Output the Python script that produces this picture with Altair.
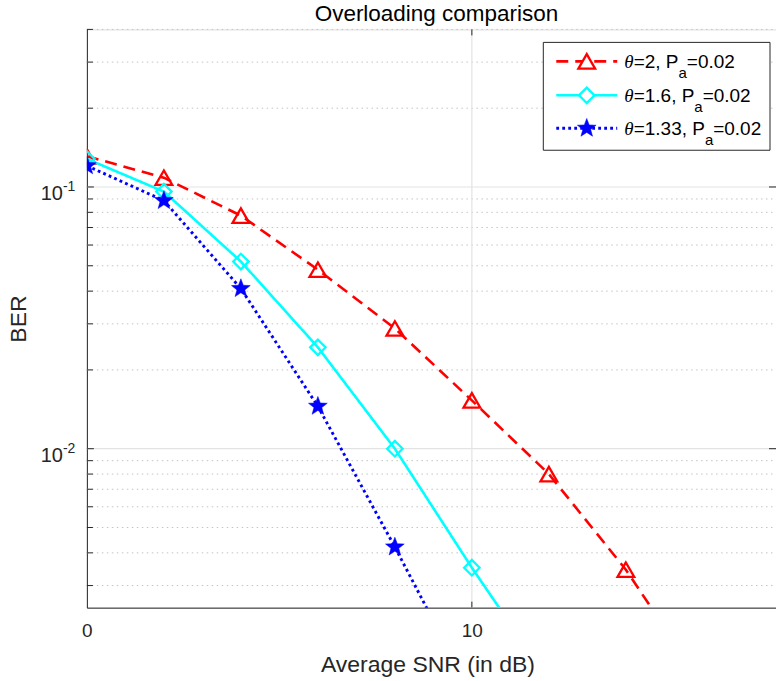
import math
import altair as alt
import pandas as pd

# ---- data -------------------------------------------------------------
snr_db = [0, 2, 4, 6, 8, 10, 12, 14, 16]
ber_theta_2 = [0.131, 0.1085, 0.0777, 0.0483, 0.0288, 0.0153, 0.0080, 0.00345, 0.00125]
ber_theta_1_6 = [0.128, 0.096, 0.0519, 0.0244, 0.0100, 0.00351, 0.0013]
ber_theta_1_33 = [0.1205, 0.0887, 0.0409, 0.01452, 0.00421, 0.00115]

theta_labels = ["2", "1.6", "1.33"]
pa_label = "0.02"
chart_title = "Overloading comparison"

x_tick_values = [0, 10]
y_major_values = [0.01, 0.1]
y_major_exponents = ["-2", "-1"]
y_minor_values = [0.003, 0.004, 0.005, 0.006, 0.007, 0.008, 0.009,
                  0.02, 0.03, 0.04, 0.05, 0.06, 0.07, 0.08, 0.09,
                  0.2, 0.3, 0.4]

# ---- layout -----------------------------------------------------------
LEFT, TOP = 87, 29
W, H = 690, 579
FONT = "Liberation Sans"
AXIS_COLOR = "#262626"

x_scale = alt.Scale(domain=[0, 17.9], nice=False, zero=False)
y_scale = alt.Scale(type="log", domain=[0.00247, 0.4], nice=False)


def star_path():
    pts = []
    for k in range(10):
        r = 1.0 if k % 2 == 0 else 0.42
        a = math.radians(-90 + 36 * k)
        pts.append(f"{r * math.cos(a):.3f},{r * math.sin(a):.3f}")
    return "M" + "L".join(pts) + "Z"


STAR = star_path()

series = [
    dict(theta=theta_labels[0], ber=ber_theta_2, color="#ff0000", width=2.6,
         dash=[12, 7], shape="triangle-up", filled=False, size=280),
    dict(theta=theta_labels[1], ber=ber_theta_1_6, color="#00ffff", width=2.6,
         dash=[1, 0], shape="diamond", filled=False, size=240),
    dict(theta=theta_labels[2], ber=ber_theta_1_33, color="#0000ff", width=2.9,
         dash=[2.8, 3.2], shape=STAR, filled=True, size=390),
]

X_AXIS = alt.Axis(values=x_tick_values, grid=False, ticks=False,
                  labelFont=FONT, labelFontSize=19, labelColor=AXIS_COLOR,
                  labelPadding=14, labelBaseline="top", labelFlush=False,
                  orient="bottom", domainColor=AXIS_COLOR, domainWidth=1,
                  titleFont=FONT, titleFontSize=23, titleFontWeight="normal",
                  titleColor=AXIS_COLOR, titleBaseline="alphabetic",
                  titleY=64, titleX=W / 2 - 4)
Y_AXIS = alt.Axis(labels=False, ticks=False, grid=False, orient="left",
                  domainColor=AXIS_COLOR, domainWidth=1,
                  titleFont=FONT, titleFontSize=23,
                  titleFontWeight="normal", titleColor=AXIS_COLOR,
                  titleBaseline="middle", titleX=-68, titleY=H / 2)


def xq(field):
    return alt.X(field, scale=x_scale, axis=X_AXIS, title="Average SNR (in dB)")


def yq(field):
    return alt.Y(field, scale=y_scale, axis=Y_AXIS, title="BER")


layers = []

major_df = pd.DataFrame({"v": y_major_values})
minor_df = pd.DataFrame({"v": y_minor_values})
xgrid_df = pd.DataFrame({"v": [v for v in x_tick_values if v > 0]})

# grid lines
layers.append(
    alt.Chart(minor_df).mark_rule(color="#c4c4c4", strokeWidth=1, strokeDash=[1.5, 3.5])
    .encode(y=yq("v:Q"), x=alt.value(0), x2=alt.value(W))
)
layers.append(
    alt.Chart(major_df).mark_rule(color="#e3e3e3", strokeWidth=1.2)
    .encode(y=yq("v:Q"), x=alt.value(0), x2=alt.value(W))
)
layers.append(
    alt.Chart(xgrid_df).mark_rule(color="#e3e3e3", strokeWidth=1.2)
    .encode(x=xq("v:Q"), y=alt.value(0), y2=alt.value(H))
)

# curves and markers
for s in series:
    df = pd.DataFrame({"snr": snr_db[: len(s["ber"])], "ber": s["ber"]})
    layers.append(
        alt.Chart(df).mark_line(color=s["color"], strokeWidth=s["width"],
                                strokeDash=s["dash"], clip=True)
        .encode(x=xq("snr:Q"), y=yq("ber:Q"))
    )
    pt = dict(shape=s["shape"], size=s["size"], clip=True, opacity=1,
              stroke=s["color"], strokeWidth=2.3)
    if s["filled"]:
        pt.update(filled=True, fill=s["color"], strokeWidth=0.5)
    else:
        pt.update(filled=False, fill="white", fillOpacity=0)
    layers.append(alt.Chart(df).mark_point(**pt).encode(x=xq("snr:Q"), y=yq("ber:Q")))

# inward ticks
layers.append(
    alt.Chart(minor_df).mark_rule(color=AXIS_COLOR, strokeWidth=1)
    .encode(y=yq("v:Q"), x=alt.value(0), x2=alt.value(6))
)
layers.append(
    alt.Chart(major_df).mark_rule(color=AXIS_COLOR, strokeWidth=1)
    .encode(y=yq("v:Q"), x=alt.value(0), x2=alt.value(7))
)
layers.append(
    alt.Chart(major_df).mark_rule(color=AXIS_COLOR, strokeWidth=1)
    .encode(y=yq("v:Q"), x=alt.value(W - 7), x2=alt.value(W))
)
layers.append(
    alt.Chart(xgrid_df).mark_rule(color=AXIS_COLOR, strokeWidth=1)
    .encode(x=xq("v:Q"), y=alt.value(H), y2=alt.value(H - 6))
)
layers.append(
    alt.Chart(xgrid_df).mark_rule(color=AXIS_COLOR, strokeWidth=1)
    .encode(x=xq("v:Q"), y=alt.value(0), y2=alt.value(6))
)

# y tick labels written as 10 with a raised exponent
ylab_df = pd.DataFrame({"v": y_major_values, "exp": y_major_exponents})
layers.append(
    alt.Chart(ylab_df).mark_text(font=FONT, fontSize=20, color=AXIS_COLOR,
                                 align="right", baseline="alphabetic", dy=13)
    .encode(y=yq("v:Q"), x=alt.value(-24), text=alt.value("10"))
)
layers.append(
    alt.Chart(ylab_df).mark_text(font=FONT, fontSize=14, color=AXIS_COLOR,
                                 align="left", baseline="alphabetic", dy=4)
    .encode(y=yq("v:Q"), x=alt.value(-24), text="exp:N")
)

# title
info = pd.DataFrame({"k": [0]})
layers.append(
    alt.Chart(info).mark_text(font=FONT, fontSize=22.5, color="black",
                              align="center", baseline="alphabetic")
    .encode(x=alt.value(W / 2 + 5), y=alt.value(-8), text=alt.value(chart_title))
)


# legend
def px(x):
    return x - LEFT


def py(y):
    return y - TOP


layers.append(
    alt.Chart(info).mark_rect(fill="white", stroke=AXIS_COLOR, strokeWidth=1)
    .encode(x=alt.value(px(544)), x2=alt.value(px(771)),
            y=alt.value(py(42)), y2=alt.value(py(150)))
)

ARIAL = {"=": 584, ".": 278, ",": 278, " ": 278, "P": 667, "a": 556}


def text_width(t, size):
    return sum(ARIAL.get(c, 556) for c in t) * size / 1000.0


LEG_FS = 19
row_y = [61, 95, 128]
for s, ry in zip(series, row_y):
    layers.append(
        alt.Chart(info).mark_rule(color=s["color"], strokeWidth=s["width"],
                                  strokeDash=s["dash"])
        .encode(x=alt.value(px(557)), x2=alt.value(px(618)),
                y=alt.value(py(ry)), y2=alt.value(py(ry)))
    )
    pt = dict(shape=s["shape"], size=s["size"], opacity=1,
              stroke=s["color"], strokeWidth=2.3)
    if s["filled"]:
        pt.update(filled=True, fill=s["color"], strokeWidth=0.5)
    else:
        pt.update(filled=False, fill="white", fillOpacity=1)
    layers.append(
        alt.Chart(info).mark_point(**pt)
        .encode(x=alt.value(px(587.5)), y=alt.value(py(ry)))
    )
    x0 = px(625)
    base = py(ry) + 6.5
    layers.append(
        alt.Chart(info).mark_text(font="Liberation Serif", fontStyle="italic",
                                  fontSize=LEG_FS, color="black", align="left",
                                  baseline="alphabetic")
        .encode(x=alt.value(x0), y=alt.value(base), text=alt.value("\u03b8"))
    )
    x1 = x0 + 9.5
    main = "=" + s["theta"] + ", P"
    layers.append(
        alt.Chart(info).mark_text(font=FONT, fontSize=LEG_FS, color="black",
                                  align="left", baseline="alphabetic")
        .encode(x=alt.value(x1), y=alt.value(base), text=alt.value(main))
    )
    x2 = x1 + text_width(main, LEG_FS)
    layers.append(
        alt.Chart(info).mark_text(font=FONT, fontSize=15, color="black",
                                  align="left", baseline="alphabetic")
        .encode(x=alt.value(x2), y=alt.value(base + 10), text=alt.value("a"))
    )
    x3 = x2 + text_width("a", 15)
    layers.append(
        alt.Chart(info).mark_text(font=FONT, fontSize=LEG_FS, color="black",
                                  align="left", baseline="alphabetic")
        .encode(x=alt.value(x3), y=alt.value(base), text=alt.value("=" + pa_label))
    )

chart = (
    alt.layer(*layers)
    .properties(
        width=W, height=H,
        autosize=alt.AutoSizeParams(type="none"),
        padding={"left": LEFT, "top": TOP, "right": 0, "bottom": 681 - TOP - H},
    )
    .configure_view(stroke="#9a9a9a", strokeWidth=1)
    .configure(background="white")
)

chart.save("out.html", embed_options={"renderer": "svg", "actions": False})
